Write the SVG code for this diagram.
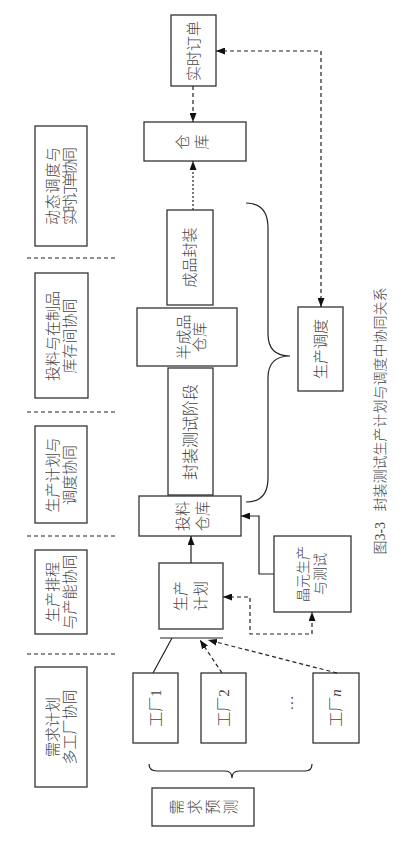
<svg xmlns="http://www.w3.org/2000/svg" width="410" height="856" viewBox="0 0 410 856">
<style>
.box{fill:#fff;stroke:#333;stroke-width:1.3}
.ln{fill:none;stroke:#222;stroke-width:1.2}
.dash{stroke-dasharray:4,3}
.dot{stroke-dasharray:2,2}
.t{font-family:"Liberation Serif","Noto Sans CJK SC",serif;font-size:15px;font-weight:300;fill:#444;text-anchor:middle;dominant-baseline:central}
.lab{font-size:15px}
</style>
<defs>
<marker id="ah" markerWidth="9" markerHeight="7" refX="9" refY="3.5" orient="auto" markerUnits="userSpaceOnUse">
<path d="M0,0 L9,3.5 L0,7 Z" fill="#111"/>
</marker>
<marker id="as" markerWidth="9" markerHeight="7" refX="0" refY="3.5" orient="auto" markerUnits="userSpaceOnUse">
<path d="M9,0 L0,3.5 L9,7 Z" fill="#111"/>
</marker>
</defs>
<rect width="410" height="856" fill="#fff"/>

<g id="labels">
<g id="lab1"><rect class="box" x="35" y="126" width="52" height="120"/>
<text class="t lab" transform="translate(61.5,186) rotate(-90)"><tspan x="0" y="-8.5" textLength="78" lengthAdjust="spacing">动态调度与</tspan><tspan x="0" y="8.5" textLength="78" lengthAdjust="spacing">实时订单协同</tspan></text></g>
<g id="lab2"><rect class="box" x="35" y="273" width="53" height="125"/>
<text class="t lab" transform="translate(61.5,336) rotate(-90)"><tspan x="0" y="-8.5">投料与在制品</tspan><tspan x="0" y="8.5">库存间协同</tspan></text></g>
<g id="lab3"><rect class="box" x="35" y="426" width="52" height="97"/>
<text class="t lab" transform="translate(61.5,475) rotate(-90)"><tspan x="0" y="-8.5">生产计划与</tspan><tspan x="0" y="8.5">调度协同</tspan></text></g>
<g id="lab4"><rect class="box" x="35" y="550" width="52" height="84"/>
<text class="t lab" transform="translate(61.5,592) rotate(-90)"><tspan x="0" y="-8.5">生产排程</tspan><tspan x="0" y="8.5">与产能协同</tspan></text></g>
<g id="lab5"><rect class="box" x="35" y="667" width="52" height="120"/>
<text class="t lab" transform="translate(61.5,727) rotate(-90)"><tspan x="0" y="-8.5">需求计划</tspan><tspan x="0" y="8.5">多工厂协同</tspan></text></g>
</g>

<g id="separators">
<line class="ln dash" x1="27" y1="258" x2="115" y2="258"/>
<line class="ln dash" x1="27" y1="412" x2="115" y2="412"/>
<line class="ln dash" x1="27" y1="536" x2="115" y2="536"/>
<line class="ln dash" x1="27" y1="654" x2="115" y2="654"/>
</g>

<g id="n-order"><rect class="box" x="171" y="15" width="45" height="71"/>
<text class="t" transform="translate(193.5,51) rotate(-90)">实时订单</text></g>
<g id="n-warehouse"><rect class="box" x="144" y="122" width="102" height="39"/>
<text class="t" transform="translate(192.5,142) rotate(-90)"><tspan x="0" y="-9.5">仓</tspan><tspan x="0" y="9.5">库</tspan></text></g>
<g id="n-finish"><rect class="box" x="167" y="210" width="46" height="95"/>
<text class="t" transform="translate(190,257.5) rotate(-90)">成品封装</text></g>
<g id="n-semi"><rect class="box" x="137" y="308" width="100" height="58"/>
<text class="t" transform="translate(192,337) rotate(-90)"><tspan x="0" y="-8">半成品</tspan><tspan x="0" y="8">仓库</tspan></text></g>
<g id="n-test"><rect class="box" x="168" y="368" width="45" height="127"/>
<text class="t" style="font-size:16px" transform="translate(190.5,432) rotate(-90)">封装测试阶段</text></g>
<g id="n-feed"><rect class="box" x="139" y="496" width="102" height="40"/>
<text class="t" transform="translate(192.5,516) rotate(-90)"><tspan x="0" y="-10">投料</tspan><tspan x="0" y="10">仓库</tspan></text></g>
<g id="n-plan"><rect class="box" x="159" y="563" width="64" height="66"/>
<text class="t" transform="translate(191,596) rotate(-90)"><tspan x="0" y="-10">生产</tspan><tspan x="0" y="10">计划</tspan></text></g>
<g id="n-wafer"><rect class="box" x="274" y="536" width="77" height="76"/>
<text class="t" transform="translate(311.5,574) rotate(-90)" style="font-size:14px"><tspan x="0" y="-8.5">晶元生产</tspan><tspan x="0" y="8.5">与测试</tspan></text></g>
<g id="n-sched"><rect class="box" x="298" y="307" width="45" height="84"/>
<text class="t" transform="translate(320.5,349) rotate(-90)">生产调度</text></g>
<g id="n-f1"><rect class="box" x="133" y="673" width="45" height="70"/>
<text class="t" transform="translate(155.5,708) rotate(-90)">工厂1</text></g>
<g id="n-f2"><rect class="box" x="201" y="673" width="45" height="70"/>
<text class="t" transform="translate(223.5,708) rotate(-90)">工厂2</text></g>
<g id="n-dots"><text class="t" transform="translate(288,703) rotate(-90)">…</text></g>
<g id="n-fn"><rect class="box" x="313" y="673" width="46" height="70"/>
<text class="t" transform="translate(336,708) rotate(-90)">工厂<tspan font-style="italic">n</tspan></text></g>
<g id="n-forecast"><rect class="box" x="152" y="788" width="102" height="38"/>
<text class="t" transform="translate(177,807) rotate(-90)">需</text>
<text class="t" transform="translate(195,807) rotate(-90)">求</text>
<text class="t" transform="translate(213,807) rotate(-90)">预</text>
<text class="t" transform="translate(231,807) rotate(-90)">测</text></g>

<g id="connectors">
<line class="ln dash" x1="193" y1="86" x2="193" y2="122" marker-end="url(#ah)"/>
<line class="ln dot" x1="193" y1="210" x2="193" y2="161" marker-end="url(#ah)"/>
<path class="ln dash" d="M216,51 H321 V307" marker-start="url(#as)" marker-end="url(#ah)"/>
<line class="ln" x1="191" y1="563" x2="191" y2="536" marker-end="url(#ah)"/>
<path class="ln" d="M274,574 H259 V516 H241" marker-end="url(#ah)"/>
<path class="ln dash" d="M223,597 H250 V634 H312 V612" marker-start="url(#as)" marker-end="url(#ah)"/>
<line class="ln" x1="160" y1="638" x2="223" y2="638"/>
<line class="ln" x1="153" y1="673" x2="172" y2="638"/>
<line class="ln dash" x1="222" y1="673" x2="200" y2="640" marker-end="url(#ah)"/>
<line class="ln dash" x1="337" y1="673" x2="208" y2="640" marker-end="url(#ah)"/>
<path class="ln" d="M149,764 Q149,771 157,771 H225 Q232,771 232,778 Q232,771 239,771 H305 Q312,771 312,764"/>
<path class="ln" d="M246,203 Q268,203 268,228 V334 Q268,356 290,356 Q268,356 268,378 V478 Q268,502 246,502"/>
</g>

<text class="t" style="font-size:14px" transform="translate(380,421) rotate(-90)">图3-3&#160;&#160;&#160;封装测试生产计划与调度中协同关系</text>
</svg>
